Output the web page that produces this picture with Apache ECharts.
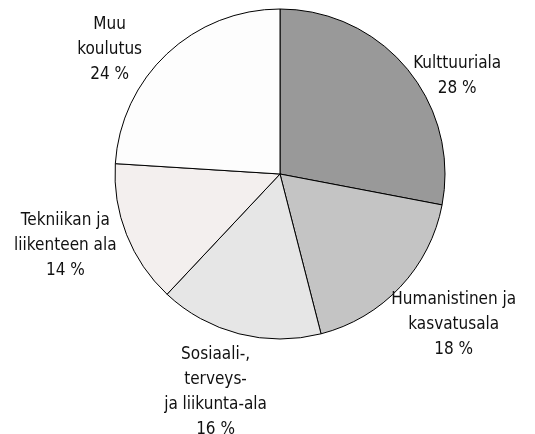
<!DOCTYPE html>
<html>
<head>
<meta charset="utf-8">
<script src="https://cdn.jsdelivr.net/npm/echarts@6/dist/echarts.min.js"></script>
<style>
  html, body { margin: 0; padding: 0; background: #fff; }
  #pie { width: 535px; height: 434px; }
</style>
</head>
<body>
<div id="pie"></div>
<script>
// koulutusalat, osuus %
var names = [
  "Kulttuuriala",
  "Humanistinen ja\nkasvatusala",
  "Sosiaali-,\nterveys-\nja liikunta-ala",
  "Tekniikan ja\nliikenteen ala",
  "Muu\nkoulutus"
];
var values = [28, 18, 16, 14, 24];
var colors = ["#999999", "#c4c4c4", "#e6e6e6", "#f3efee", "#fdfdfd"];
// label nudges from the default outside position
var nudge = [[6, 7], [-9, 38], [28, 58], [-10, 11], [-25, -4]];

var chart = echarts.init(document.getElementById("pie"));
chart.setOption({
  animation: false,
  series: [
    {
      type: "pie",
      center: [280, 174],
      radius: 165,
      startAngle: 90,
      clockwise: true,
      avoidLabelOverlap: false,
      itemStyle: { borderColor: "#000", borderWidth: 1 },
      emphasis: { disabled: true },
      label: {
        position: "outside",
        distanceToLabelLine: 0,
        formatter: function (p) {
          return p.name + "\n" + p.value + " %";
        },
        fontFamily: "'Liberation Sans Narrow', 'DejaVu Sans Condensed', sans-serif",
        fontSize: 17,
        lineHeight: 25,
        color: "#111"
      },
      labelLine: { show: false, length: 0, length2: 0 },
      labelLayout: function (p) {
        var n = nudge[p.dataIndex];
        var r = p.labelRect;
        return {
          x: r.x + r.width / 2 + n[0],
          y: r.y + r.height / 2 + n[1],
          align: "center",
          verticalAlign: "middle"
        };
      },
      data: names.map(function (n, i) {
        return { name: n, value: values[i], itemStyle: { color: colors[i] } };
      })
    }
  ]
});
</script>
</body>
</html>
